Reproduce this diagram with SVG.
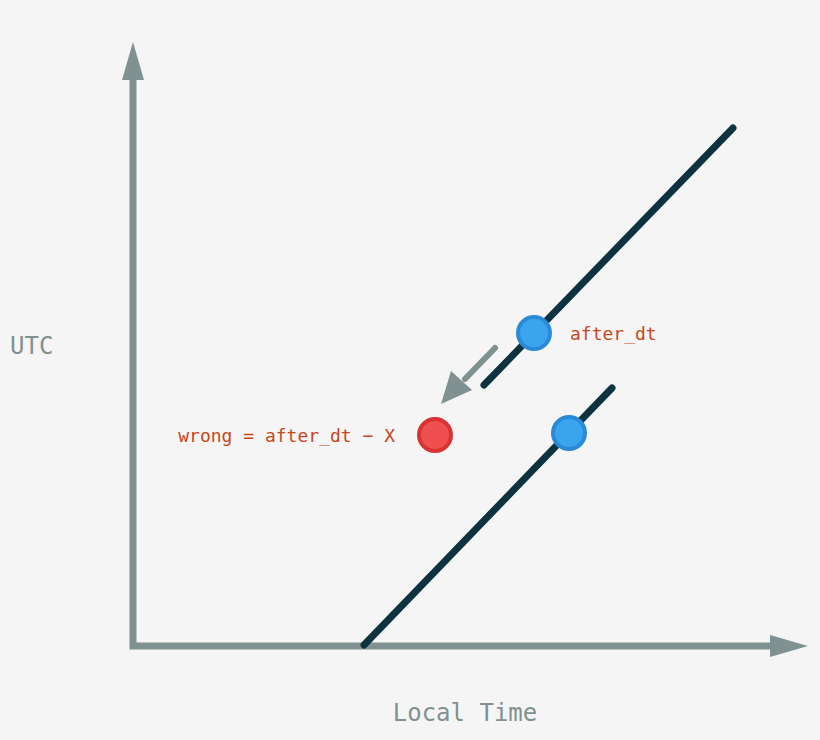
<svg xmlns="http://www.w3.org/2000/svg" width="820" height="740" viewBox="0 0 820 740">
<style>
.ax{stroke:#7f9191;stroke-width:7;fill:none}
.hd{fill:#7f9191}
.ln{stroke:#0d3240;stroke-width:7;stroke-linecap:round}
.blue{fill:#3aa4ee;stroke:#2a8ad6;stroke-width:4}
.red{fill:#ee4f4f;stroke:#d83232;stroke-width:4}
.lbl{font-family:"DejaVu Sans Mono",monospace;font-size:18px;fill:#c8461c}
.axl{font-family:"DejaVu Sans Mono",monospace;font-size:24px;fill:#7f9191}
</style>
<rect width="820" height="740" fill="#f5f5f5"/>
<g id="connectors">
<path class="ax" d="M133,80 V646 H772"/>
<polygon class="hd" points="133,42 144,80 122,80"/>
<polygon class="hd" points="808,646 770,635 770,657"/>
<line class="ln" x1="484" y1="385" x2="733" y2="128"/>
<line class="ln" x1="364" y1="645" x2="612" y2="388"/>
<line x1="495" y1="348" x2="465" y2="379" stroke="#7f9191" stroke-width="6" stroke-linecap="round"/>
<polygon class="hd" points="441,404 451,371 472,390"/>
</g>
<g id="n1"><circle class="blue" cx="534" cy="333" r="16"/><text class="lbl" x="570" y="340">after_dt</text></g>
<g id="n2"><circle class="blue" cx="569" cy="433" r="16"/></g>
<g id="n3"><circle class="red" cx="435" cy="435" r="16"/><text class="lbl" x="395" y="442" text-anchor="end">wrong = after_dt − X</text></g>
<g id="yl"><text class="axl" x="10" y="354">UTC</text></g>
<g id="xl"><text class="axl" x="465" y="721" text-anchor="middle">Local Time</text></g>
</svg>
